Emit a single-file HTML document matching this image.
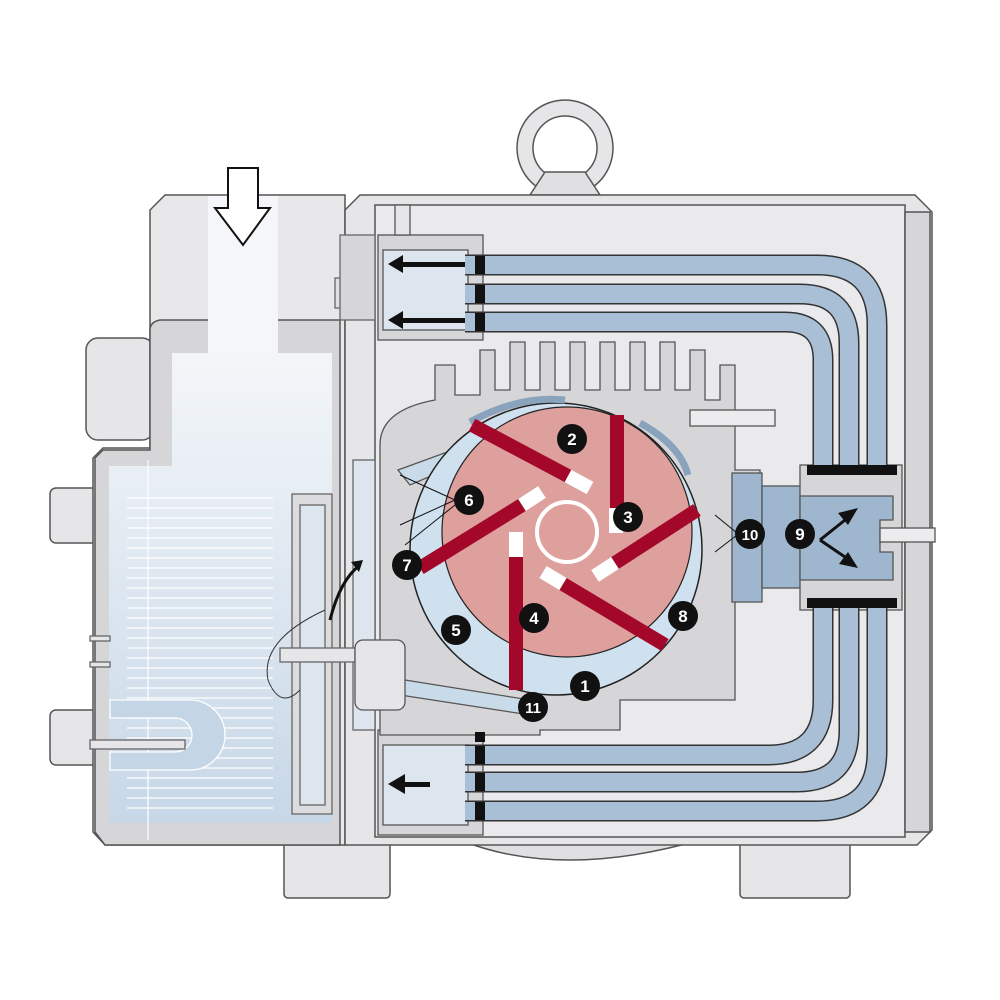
<!DOCTYPE html><html><head><style>body{margin:0;background:#fff}svg{display:block}</style></head><body>
<svg width="1000" height="1000" viewBox="0 0 1000 1000" xmlns="http://www.w3.org/2000/svg" font-family="Liberation Sans, sans-serif">
<defs>
<linearGradient id="bl" x1="0" y1="0" x2="0" y2="1"><stop offset="0" stop-color="#f3f6f9"/><stop offset="0.4" stop-color="#e2eaf2"/><stop offset="1" stop-color="#c7d7e7"/></linearGradient>
</defs>
<g stroke="#555" stroke-width="1.5">
<circle cx="565" cy="148" r="48" fill="#e6e6e8"/>
<circle cx="565" cy="148" r="32" fill="#fff"/>
<path d="M545 172 L585 172 L600 195 L530 195Z" fill="#e0e0e2"/>
<rect x="284" y="840" width="106" height="58" rx="4" fill="#e6e6e8"/>
<rect x="740" y="840" width="110" height="58" rx="4" fill="#e6e6e8"/>
<path d="M460 840 Q560 880 700 840Z" fill="#e0e0e2"/>
<rect x="86" y="338" width="68" height="102" rx="12" fill="#e6e6e8"/>
<rect x="50" y="488" width="50" height="55" rx="6" fill="#e6e6e8"/>
<rect x="50" y="710" width="50" height="55" rx="6" fill="#e6e6e8"/>
<path d="M165 195 L345 195 L345 845 L105 845 L93 832 L93 458 L103 448 L150 448 L150 330 L150 210 Z" fill="#e8e8ea"/>
<path d="M150 330 Q150 322 160 320 L340 320 L340 845 L105 845 L95 832 L95 458 L103 450 L150 450 Z" fill="#d6d6d8"/>
<path d="M345 210 L360 195 L915 195 L932 212 L932 830 L917 845 L345 845 Z" fill="#e6e6e8"/>
<rect x="375" y="205" width="530" height="632" fill="#eaeaec"/>
<rect x="905" y="212" width="25" height="620" fill="#d6d6d8"/>
</g>
<rect x="208" y="196" width="70" height="160" fill="#f4f6f9"/>
<path d="M172 353 H332 V823 H109 V466 H172 Z" fill="url(#bl)"/>
<g stroke="#fff" stroke-width="1.2">
<line x1="127" y1="498" x2="273" y2="498"/><line x1="127" y1="508" x2="273" y2="508"/><line x1="127" y1="518" x2="273" y2="518"/><line x1="127" y1="528" x2="273" y2="528"/><line x1="127" y1="538" x2="273" y2="538"/><line x1="127" y1="548" x2="273" y2="548"/><line x1="127" y1="558" x2="273" y2="558"/><line x1="127" y1="568" x2="273" y2="568"/><line x1="127" y1="578" x2="273" y2="578"/><line x1="127" y1="588" x2="273" y2="588"/><line x1="127" y1="598" x2="273" y2="598"/><line x1="127" y1="608" x2="273" y2="608"/><line x1="127" y1="618" x2="273" y2="618"/><line x1="127" y1="628" x2="273" y2="628"/><line x1="127" y1="638" x2="273" y2="638"/><line x1="127" y1="648" x2="273" y2="648"/><line x1="127" y1="658" x2="273" y2="658"/><line x1="127" y1="668" x2="273" y2="668"/><line x1="127" y1="678" x2="273" y2="678"/><line x1="127" y1="688" x2="273" y2="688"/><line x1="127" y1="698" x2="273" y2="698"/><line x1="127" y1="708" x2="273" y2="708"/><line x1="127" y1="718" x2="273" y2="718"/><line x1="127" y1="728" x2="273" y2="728"/><line x1="127" y1="738" x2="273" y2="738"/><line x1="127" y1="748" x2="273" y2="748"/><line x1="127" y1="758" x2="273" y2="758"/><line x1="127" y1="768" x2="273" y2="768"/><line x1="127" y1="778" x2="273" y2="778"/><line x1="127" y1="788" x2="273" y2="788"/><line x1="127" y1="798" x2="273" y2="798"/><line x1="127" y1="808" x2="273" y2="808"/>
<line x1="148" y1="460" x2="148" y2="840"/>
</g>
<g stroke="#666" stroke-width="1.3" fill="#e6e6e8">
<path d="M110 700 h80 a35 35 0 0 1 0 70 h-80 v-18 h65 a17 17 0 0 0 0 -34 h-65z" fill="#c4d5e6" stroke="#fff"/>
<rect x="90" y="740" width="95" height="9"/>
<rect x="90" y="636" width="20" height="5"/><rect x="90" y="662" width="20" height="5"/>
<rect x="292" y="494" width="40" height="320" fill="#dcdcde"/>
<rect x="300" y="505" width="25" height="300" fill="#dde6ef"/>
<rect x="353" y="460" width="22" height="270" fill="#dde6ef"/>
<rect x="335" y="278" width="20" height="30" fill="#e0e0e2"/>
<rect x="340" y="235" width="35" height="85" fill="#d6d6d8"/>
<rect x="280" y="648" width="75" height="14" fill="#e6e6e8"/>
<path d="M228 168 H258 V208 H270 L243 245 L215 208 H228 Z" fill="#fff" stroke="#111" stroke-width="2"/>
</g>
<g stroke="#555" stroke-width="1.3">
<rect x="378" y="235" width="105" height="105" fill="#d6d6d8"/>
<rect x="383" y="250" width="85" height="80" fill="#dde6ef"/>
<rect x="395" y="205" width="15" height="30" fill="#e6e6e8"/>
<rect x="378" y="730" width="105" height="105" fill="#d6d6d8"/>
<rect x="383" y="745" width="85" height="80" fill="#dde6ef"/>
</g>
<g fill="#111">
<rect x="400" y="262" width="65" height="5"/><path d="M388 264 l15 -9 v18z"/>
<rect x="400" y="318" width="65" height="5"/><path d="M388 320 l15 -9 v18z"/>
<rect x="405" y="782" width="25" height="5"/><path d="M388 784 l17 -10 v20z"/>
</g>
<g stroke="#555" stroke-width="1.3" fill="#d6d6d8">
<path d="M380 445 Q380 410 435 400 V365 H455 V395 H480 V350 H495 V390 H510 V342 H525 V390 H540 V342 H555 V390 H570 V342 H585 V390 H600 V342 H615 V390 H630 V342 H645 V390 H660 V342 H675 V390 H690 V350 H705 V400 H720 V365 H735 V470 H760 V600 H735 V700 H620 V730 H540 V735 H380 Z"/>
<rect x="690" y="410" width="85" height="16" fill="#ececee"/>
<rect x="732" y="473" width="30" height="129" fill="#9fb6cf"/>
<rect x="762" y="486" width="40" height="102" fill="#9fb6cf"/>
<rect x="800" y="465" width="102" height="145" fill="#d6d6d8"/>
<path d="M800 496 H893 V520 H880 V552 H893 V580 H800Z" fill="#9fb6cf"/>
<rect x="880" y="528" width="55" height="14" fill="#ececee"/>
<path d="M398 470 L480 440 L480 455 L410 485Z" fill="#c9dae8"/>
<path d="M405 680 L530 700 L530 715 L400 695Z" fill="#c9dae8"/>
<rect x="355" y="640" width="50" height="70" rx="8" fill="#e6e6e8"/>
</g>
<g fill="none">
<g stroke="#333" stroke-width="21">
<path d="M465 265 H817 Q877 265 877 325 V470"/>
<path d="M465 294 H800 Q849 294 849 343 V470"/>
<path d="M465 322 H785 Q823 322 823 360 V470"/>
<path d="M877 605 V751 Q877 811 817 811 H465"/>
<path d="M849 605 V730 Q849 782 797 782 H465"/>
<path d="M823 605 V700 Q823 755 768 755 H465"/>
</g>
<g stroke="#a8bfd6" stroke-width="18">
<path d="M465 265 H817 Q877 265 877 325 V470"/>
<path d="M465 294 H800 Q849 294 849 343 V470"/>
<path d="M465 322 H785 Q823 322 823 360 V470"/>
<path d="M877 605 V751 Q877 811 817 811 H465"/>
<path d="M849 605 V730 Q849 782 797 782 H465"/>
<path d="M823 605 V700 Q823 755 768 755 H465"/>
</g>
</g>
<g fill="#111">
<rect x="475" y="256" width="10" height="18"/><rect x="475" y="285" width="10" height="18"/><rect x="475" y="313" width="10" height="18"/>
<rect x="475" y="746" width="10" height="18"/><rect x="475" y="773" width="10" height="18"/><rect x="475" y="802" width="10" height="18"/><rect x="475" y="732" width="10" height="10"/>
<rect x="807" y="465" width="90" height="10"/><rect x="807" y="598" width="90" height="10"/>
</g>
<circle cx="556" cy="549" r="146" fill="#cfe0ee" stroke="#222" stroke-width="1.5"/>
<path d="M470 422 Q520 395 565 400" fill="none" stroke="#8aa3bd" stroke-width="7"/>
<path d="M640 423 Q680 445 688 475" fill="none" stroke="#8aa3bd" stroke-width="7"/>
<circle cx="567" cy="532" r="125" fill="#dea09c" stroke="#222" stroke-width="1.2"/>
<circle cx="567" cy="532" r="30" fill="none" stroke="#fff" stroke-width="4"/>
<g stroke="#a3082b" stroke-width="14">
<line x1="472" y1="425" x2="568" y2="476"/>
<line x1="617" y1="415" x2="617" y2="508"/>
<line x1="420" y1="568" x2="522" y2="505"/>
<line x1="697" y1="510" x2="615" y2="563"/>
<line x1="665" y1="645" x2="563" y2="584"/>
<line x1="516" y1="690" x2="516" y2="557"/>
</g>
<g stroke="#fff" stroke-width="14">
<line x1="568" y1="476" x2="590" y2="488"/>
<line x1="616" y1="508" x2="616" y2="533"/>
<line x1="522" y1="505" x2="542" y2="492"/>
<line x1="615" y1="563" x2="595" y2="576"/>
<line x1="563" y1="584" x2="543" y2="572"/>
<line x1="516" y1="557" x2="516" y2="532"/>
</g>
<g stroke="#111" stroke-width="1">
<line x1="400" y1="475" x2="455" y2="500"/><line x1="400" y1="525" x2="455" y2="500"/><line x1="405" y1="545" x2="455" y2="505"/>
<line x1="715" y1="515" x2="737" y2="533"/><line x1="715" y1="552" x2="737" y2="535"/>
</g>
<path d="M330 620 Q340 580 360 565" fill="none" stroke="#111" stroke-width="3"/><path d="M363 560 l-12 2 l8 10z" fill="#111"/>
<path d="M820 540 L845 520" stroke="#111" stroke-width="3"/><path d="M858 508 l-20 5 l10 12z" fill="#111"/>
<path d="M820 540 L845 557" stroke="#111" stroke-width="3"/><path d="M858 568 l-10 -16 l-9 12z" fill="#111"/>
<path d="M325 610 Q260 640 268 680 Q280 710 300 690" fill="none" stroke="#333" stroke-width="1"/>
<g font-weight="bold" font-size="17" fill="#fff" text-anchor="middle">
<circle cx="585" cy="686" r="15" fill="#111"/><text x="585" y="692">1</text>
<circle cx="572" cy="439" r="15" fill="#111"/><text x="572" y="445">2</text>
<circle cx="628" cy="517" r="15" fill="#111"/><text x="628" y="523">3</text>
<circle cx="534" cy="618" r="15" fill="#111"/><text x="534" y="624">4</text>
<circle cx="456" cy="630" r="15" fill="#111"/><text x="456" y="636">5</text>
<circle cx="469" cy="500" r="15" fill="#111"/><text x="469" y="506">6</text>
<circle cx="407" cy="565" r="15" fill="#111"/><text x="407" y="571">7</text>
<circle cx="683" cy="616" r="15" fill="#111"/><text x="683" y="622">8</text>
<circle cx="800" cy="534" r="15" fill="#111"/><text x="800" y="540">9</text>
<circle cx="750" cy="534" r="15" fill="#111"/><text x="750" y="540" font-size="15">10</text>
<circle cx="533" cy="707" r="15" fill="#111"/><text x="533" y="713" font-size="15">11</text>
</g>
</svg>
</body></html>
